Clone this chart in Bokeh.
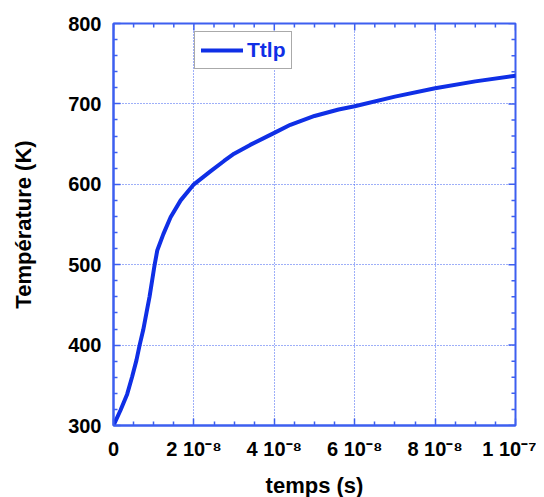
import math
from bokeh.plotting import figure
from bokeh.models import (ColumnDataSource, LinearAxis, FixedTicker,
                          CustomJSTickFormatter, Range1d)
from bokeh.embed import file_html
from bokeh.resources import INLINE

# data
temps_s = [0, 1.74e-9, 3.4e-9, 4.6e-9, 5.7e-9, 6.5e-9, 7.4e-9, 8.2e-9, 8.96e-9,
           9.6e-9, 1.02e-8, 1.09e-8, 1.24e-8, 1.42e-8, 1.67e-8, 2.0e-8, 2.41e-8,
           2.75e-8, 3.0e-8, 3.4e-8, 4.0e-8, 4.4e-8, 5.0e-8, 5.6e-8, 6.0e-8,
           7.0e-8, 8.0e-8, 9.0e-8, 1.0e-7]
temperature_K = [300, 319, 339, 360, 381, 400, 419, 440, 460,
                 480, 499, 518, 538, 559, 580, 600, 616,
                 629, 638, 649, 664, 674, 685, 693, 697,
                 709, 719.5, 728, 735]
series_name = "Ttlp"
x_label = "temps (s)"
y_label = "Température (K)"

x_major = [0, 2e-8, 4e-8, 6e-8, 8e-8, 1e-7]
y_major = [300, 400, 500, 600, 700, 800]
x_minor_per = 4   # intervals between major ticks
y_minor_per = 5

x_minor = [a + k * (b - a) / x_minor_per for a, b in zip(x_major[:-1], x_major[1:])
           for k in range(1, x_minor_per)]
y_minor = [a + k * (b - a) / y_minor_per for a, b in zip(y_major[:-1], y_major[1:])
           for k in range(1, y_minor_per)]

LINE = "#0f2fe6"
AXIS = "#3d5ff0"
GRID = "#3d5ff0"
FONT = "Liberation Sans"

src = ColumnDataSource(dict(t=temps_s, T=temperature_K))

p = figure(frame_width=402, frame_height=402, output_backend="svg",
           toolbar_location=None,
           x_range=Range1d(x_major[0], x_major[-1]),
           y_range=Range1d(y_major[0], y_major[-1]),
           min_border_left=113, min_border_top=23,
           min_border_right=21, min_border_bottom=70,
           x_axis_location=None, y_axis_location=None)
p.outline_line_color = AXIS
p.outline_line_width = 2
p.background_fill_color = "white"
p.border_fill_color = "white"

xt = FixedTicker(ticks=x_major, minor_ticks=x_minor)
yt = FixedTicker(ticks=y_major, minor_ticks=y_minor)

fmt = CustomJSTickFormatter(code="""
if (Math.abs(tick) < 1e-15) return "0";
const e = Math.floor(Math.log10(Math.abs(tick)) + 1e-9);
const m = Math.round(tick / Math.pow(10, e));
const sup = {"-":"\u207b","0":"\u2070","1":"\u00b9","2":"\u00b2","3":"\u00b3","4":"\u2074","5":"\u2075","6":"\u2076","7":"\u2077","8":"\u2078","9":"\u2079"};
return m + " 10" + String(e).split("").map(c => sup[c]).join("");
""")

MAJ_LEN = 7
MIN_LEN = 4

def style(ax):
    ax.axis_line_color = AXIS
    ax.axis_line_width = 2
    ax.major_tick_line_color = AXIS
    ax.minor_tick_line_color = AXIS
    ax.major_tick_line_width = 1.5
    ax.minor_tick_line_width = 1.5
    ax.major_tick_in = MAJ_LEN
    ax.major_tick_out = 0
    ax.minor_tick_in = MIN_LEN
    ax.minor_tick_out = 0
    ax.major_label_text_font = FONT
    ax.major_label_text_font_style = "bold"
    ax.major_label_text_font_size = "20px"
    ax.major_label_text_color = "black"
    ax.axis_label_text_font = FONT
    ax.axis_label_text_font_style = "bold"
    ax.axis_label_text_font_size = "22px"
    ax.axis_label_text_color = "black"

xb = LinearAxis(ticker=xt, formatter=fmt, axis_label=x_label)
style(xb)
xb.major_label_standoff = 12
xb.axis_label_standoff = 10
p.add_layout(xb, "below")

yl = LinearAxis(ticker=yt, axis_label=y_label)
style(yl)
yl.major_label_standoff = 12
yl.axis_label_standoff = 29
p.add_layout(yl, "left")

# mirrored inward ticks on top and right edges
tick_kw = dict(length_units="screen", line_color=AXIS, line_width=1.5)
p.ray(x=x_major, y=[y_major[-1]] * len(x_major), length=MAJ_LEN,
      angle=-math.pi / 2, **tick_kw)
p.ray(x=x_minor, y=[y_major[-1]] * len(x_minor), length=MIN_LEN,
      angle=-math.pi / 2, **tick_kw)
p.ray(x=[x_major[-1]] * len(y_major), y=y_major, length=MAJ_LEN,
      angle=math.pi, **tick_kw)
p.ray(x=[x_major[-1]] * len(y_minor), y=y_minor, length=MIN_LEN,
      angle=math.pi, **tick_kw)

p.xgrid.ticker = xt
p.ygrid.ticker = yt
for g in (p.xgrid, p.ygrid):
    g.grid_line_color = GRID
    g.grid_line_dash = "1 2"
    g.grid_line_width = 1

p.line("t", "T", source=src, line_color=LINE, line_width=4,
       line_join="round", line_cap="round", legend_label=series_name)

lg = p.legend[0]
lg.location = (81, 356)
lg.border_line_color = "#555555"
lg.border_line_width = 1.5
lg.background_fill_color = "white"
lg.background_fill_alpha = 1
lg.label_text_font = FONT
lg.label_text_font_style = "bold"
lg.label_text_font_size = "21px"
lg.label_text_color = LINE
lg.glyph_width = 42
lg.glyph_height = 22
lg.label_height = 22
lg.label_standoff = 4
lg.padding = 6
lg.margin = 0
lg.spacing = 0

open("out.html", "w").write(file_html(p, INLINE))
